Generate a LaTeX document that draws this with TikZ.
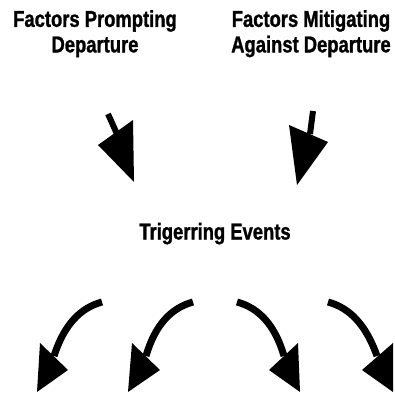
\documentclass[tikz,border=0pt]{standalone}
\usepackage{fontspec}
\setmainfont{Liberation Sans}[FakeStretch=0.8,BoldFeatures={FakeBold=1.2}]
\begin{document}
\begin{tikzpicture}[x=1pt,y=-1pt,
  lbl/.style={inner sep=0pt,align=center,font=\bfseries\fontsize{23}{25.5}\selectfont},
  shaft/.style={line width=7pt,line cap=butt},
  head/.style={fill=black}]
\useasboundingbox (0,0) rectangle (395,395);
\node[lbl,anchor=north] (prompt) at (95,10) {Factors Prompting\\Departure};
\node[lbl,anchor=north] (mitig) at (311,10) {Factors Mitigating\\Against Departure};
\node[lbl,anchor=base] (trig) at (215,239.5) {Trigerring Events};
% top arrows
\draw[line width=6pt] (108,114) -- (117,134);
\fill[head] (98,145) -- (133,120) -- (134,182) -- cycle;
\draw[line width=6pt] (313,111) -- (310,134);
\fill[head] (289,125) -- (328,142) -- (297,185) -- cycle;
% bottom arrows
\draw[shaft] (102,302) .. controls (80,308) and (64,325) .. (54,356);
\fill[head] (40,343) -- (68,370) -- (37,392) -- cycle;
\draw[shaft] (193,302) .. controls (171,308) and (155,325) .. (146,356);
\fill[head] (132,343) -- (160,370) -- (128,392) -- cycle;
\draw[shaft] (237,302) .. controls (259,308) and (275,325) .. (284,356);
\fill[head] (269,370) -- (298,343) -- (300,392) -- cycle;
\draw[shaft] (328,302) .. controls (350,308) and (366,325) .. (377,356);
\fill[head] (362,370) -- (393,343) -- (393,392) -- cycle;
\end{tikzpicture}
\end{document}
